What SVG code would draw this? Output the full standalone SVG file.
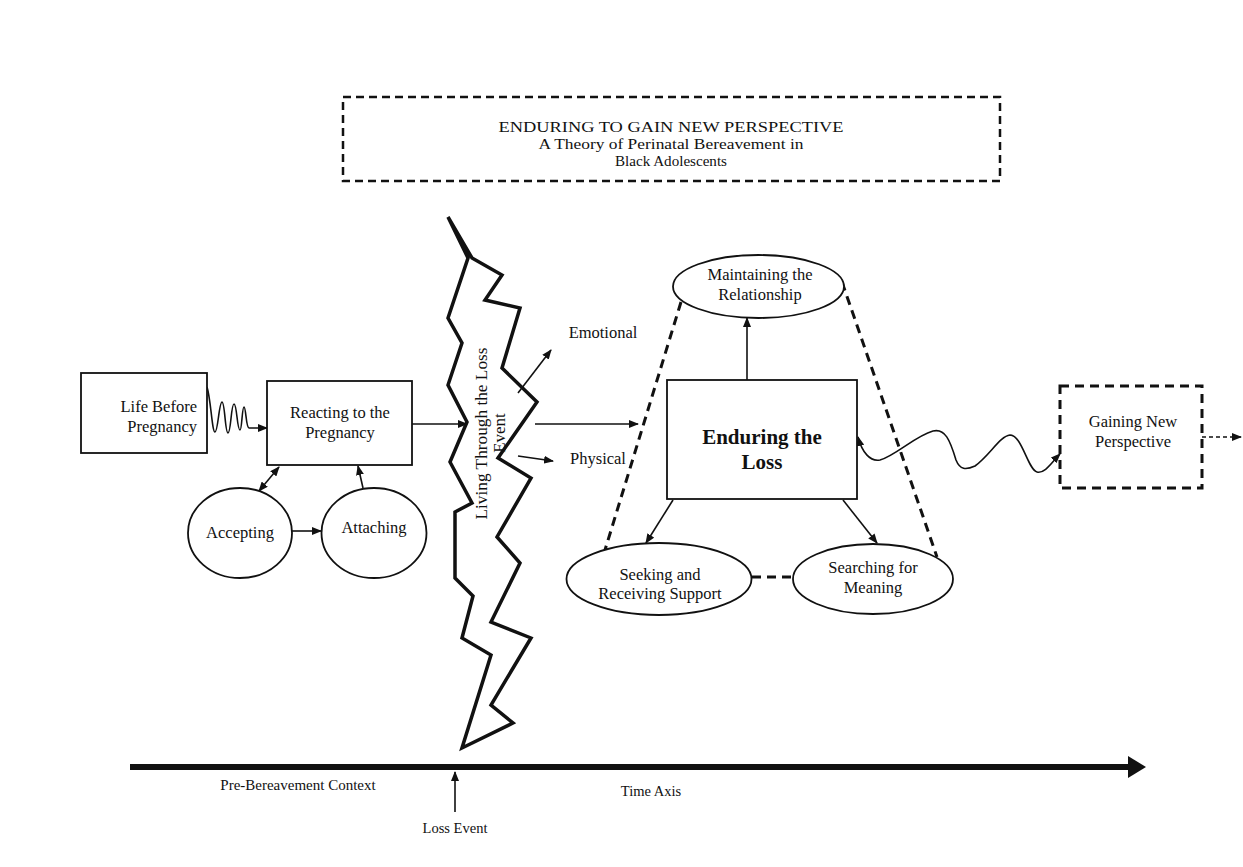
<svg xmlns="http://www.w3.org/2000/svg" width="1243" height="867" viewBox="0 0 1243 867">
<defs>
<style>
text{font-family:"Liberation Serif","Times New Roman",serif;fill:#111;text-anchor:middle}
.t{font-size:16.5px}
.b{font-size:21px;font-weight:bold}
.s{fill:none;stroke:#111;stroke-width:1.6}
.n{fill:#fff;stroke:#111;stroke-width:1.8}
.d{fill:none;stroke:#111;stroke-width:3;stroke-dasharray:9 6}
</style>
<marker id="ah" markerWidth="10" markerHeight="8" refX="9" refY="4" orient="auto" markerUnits="userSpaceOnUse">
<path d="M0,0 L10,4 L0,8 z" fill="#111"/>
</marker>
<marker id="as" markerWidth="10" markerHeight="8" refX="1" refY="4" orient="auto" markerUnits="userSpaceOnUse">
<path d="M10,0 L0,4 L10,8 z" fill="#111"/>
</marker>
</defs>
<rect width="1243" height="867" fill="#fff"/>

<g id="title">
<rect x="343" y="97" width="657" height="84" fill="none" stroke="#111" stroke-width="2.5" stroke-dasharray="8 5"/>
<text x="671" y="132" font-size="15" textLength="345" lengthAdjust="spacingAndGlyphs">ENDURING TO GAIN NEW PERSPECTIVE</text>
<text x="671" y="149" font-size="15" textLength="265" lengthAdjust="spacingAndGlyphs">A Theory of Perinatal Bereavement in</text>
<text x="671" y="166" font-size="15" textLength="112" lengthAdjust="spacingAndGlyphs">Black Adolescents</text>
</g>

<g id="connectors">
<path class="s" d="M207,387 C211,400 212,432 215,432 C218,432 219,402 222,402 C225,402 225,433 228,433 C231,433 231,404 234,404 C237,404 237,430 240,430 C242,430 242,407 244,407 C246,407 246,428 249,428 L267,428" marker-end="url(#ah)"/>
<line class="s" x1="412" y1="424" x2="467" y2="424" marker-end="url(#ah)"/>
<line class="s" x1="292" y1="531" x2="321" y2="531" stroke-width="2.2" marker-end="url(#ah)"/>
<line class="s" x1="259" y1="491" x2="279" y2="467" stroke-width="2" marker-start="url(#as)" marker-end="url(#ah)"/>
<line class="s" x1="363" y1="488" x2="358" y2="466" marker-end="url(#ah)"/>
<line class="s" x1="518" y1="393" x2="551" y2="350" marker-end="url(#ah)"/>
<line class="s" x1="518" y1="456" x2="553" y2="461" marker-end="url(#ah)"/>
<line class="s" x1="535" y1="424" x2="638" y2="424" marker-end="url(#ah)"/>
<line class="s" x1="747" y1="380" x2="747" y2="318" marker-end="url(#ah)"/>
<line class="s" x1="673" y1="500" x2="646" y2="543" marker-end="url(#ah)"/>
<line class="s" x1="843" y1="500" x2="877" y2="543" marker-end="url(#ah)"/>
<line class="d" x1="681" y1="302" x2="605" y2="550"/>
<line class="d" x1="842" y1="282" x2="937" y2="557"/>
<line class="d" x1="752" y1="577" x2="793" y2="577"/>
<path class="s" d="M858,437 C862,452 870,462 880,460 C895,456 915,436 933,431 C945,428 950,440 956,460 C960,470 966,470 975,466 C990,455 1000,436 1010,435 C1022,435 1028,470 1037,472 C1045,474 1052,462 1060,454" marker-start="url(#as)" marker-end="url(#ah)"/>
<line x1="1202" y1="437" x2="1241" y2="437" stroke="#111" stroke-width="1.6" stroke-dasharray="4 3" marker-end="url(#ah)"/>
</g>

<g id="life-before">
<rect class="n" x="81" y="373" width="126" height="80"/>
<text class="t" x="197" y="412" style="text-anchor:end">Life Before</text>
<text class="t" x="197" y="432" style="text-anchor:end">Pregnancy</text>
</g>

<g id="reacting">
<rect class="n" x="267" y="381" width="145" height="84"/>
<text class="t" x="340" y="418">Reacting to the</text>
<text class="t" x="340" y="438">Pregnancy</text>
</g>

<g id="accepting">
<ellipse class="n" cx="240" cy="533" rx="52" ry="45"/>
<text class="t" x="240" y="538">Accepting</text>
</g>

<g id="attaching">
<ellipse class="n" cx="374" cy="533" rx="52.5" ry="45"/>
<text class="t" x="374" y="533">Attaching</text>
</g>

<g id="living">
<polygon points="448,217 468,258 448,318 462,343 448,385 467,422 450,462 472,503 455,512 455,578 473,596 462,638 491,655 462,748 513,723 491,705 531,638 491,622 520,563 497,537 531,478 498,458 537,402 502,368 520,308 485,300 502,275 472,258" fill="none" stroke="#111" stroke-width="3.5" stroke-linejoin="miter"/>
<text transform="translate(487,433.5) rotate(-90)" font-size="17.3">Living Through the Loss</text>
<text transform="translate(505,433) rotate(-90)" font-size="17">Event</text>
</g>

<g id="emotional"><text class="t" x="603" y="338">Emotional</text></g>
<g id="physical"><text class="t" x="598" y="464">Physical</text></g>

<g id="maintaining">
<ellipse class="n" cx="758.5" cy="286.5" rx="85.5" ry="31.5"/>
<text class="t" x="760" y="280">Maintaining the</text>
<text class="t" x="760" y="300">Relationship</text>
</g>

<g id="enduring">
<rect class="n" x="667" y="380" width="190" height="119"/>
<text class="b" x="762" y="444">Enduring the</text>
<text class="b" x="762" y="469">Loss</text>
</g>

<g id="seeking">
<ellipse class="n" cx="659" cy="579" rx="92.5" ry="36"/>
<text class="t" x="660" y="580">Seeking and</text>
<text class="t" x="660" y="599">Receiving Support</text>
</g>

<g id="searching">
<ellipse class="n" cx="873" cy="579" rx="80" ry="35"/>
<text class="t" x="873" y="573">Searching for</text>
<text class="t" x="873" y="593">Meaning</text>
</g>

<g id="gaining">
<rect x="1060" y="386" width="142" height="102" fill="none" stroke="#111" stroke-width="3" stroke-dasharray="9 6"/>
<text class="t" x="1133" y="427">Gaining New</text>
<text class="t" x="1133" y="447">Perspective</text>
</g>

<g id="timeline">
<line x1="130" y1="767" x2="1130" y2="767" stroke="#111" stroke-width="6"/>
<polygon points="1128,756 1146,767 1128,778" fill="#111"/>
<line class="s" x1="455" y1="812" x2="455" y2="772" stroke-width="1.2" marker-end="url(#ah)"/>
<text x="298" y="790" font-size="15">Pre-Bereavement Context</text>
<text x="651" y="796" font-size="14.5">Time Axis</text>
<text x="455" y="833" font-size="14.5">Loss Event</text>
</g>
</svg>
